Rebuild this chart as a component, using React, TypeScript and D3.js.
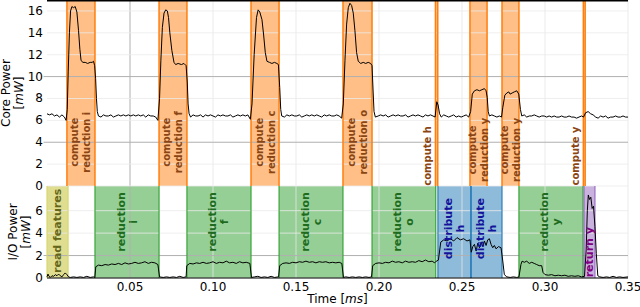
import React from "react";
import * as d3 from "d3";

// core power trace, [time ms, mW]
const coreTrace: [number, number][] = [
  [0, 6.6], [0.0015, 6.5], [0.003, 6.6], [0.0045, 6.4], [0.006, 6.5], [0.0075, 6.3], [0.009, 6.5], [0.0105, 6.3], [0.0115, 6.0],
  [0.0122, 7.0], [0.0128, 10.5], [0.0135, 14.0], [0.0142, 16.0], [0.015, 16.4], [0.016, 16.3], [0.017, 16.4], [0.018, 15.9], [0.019, 14.2], [0.0198, 12.5], [0.0205, 11.5], [0.0215, 11.3], [0.023, 11.3], [0.0245, 11.2], [0.026, 11.3], [0.0272, 11.3], [0.028, 11.4], [0.0287, 11.0],
  [0.0293, 9.8], [0.0298, 8.0], [0.0303, 6.8], [0.031, 6.4],
  [0.0325, 6.3], [0.034, 6.5], [0.0355, 6.4], [0.037, 6.4], [0.0385, 6.5], [0.04, 6.3], [0.0415, 6.4], [0.043, 6.5], [0.0445, 6.4], [0.046, 6.5], [0.0475, 6.4], [0.049, 6.5], [0.0505, 6.4], [0.052, 6.5], [0.0535, 6.4], [0.055, 6.5], [0.0565, 6.4], [0.058, 6.5], [0.0595, 6.3], [0.061, 6.5], [0.0625, 6.4], [0.064, 6.4], [0.0655, 6.3], [0.0668, 6.0],
  [0.0678, 8.0], [0.0686, 11.5], [0.0695, 14.5], [0.0705, 15.8], [0.0715, 16.1], [0.0725, 16.0], [0.0732, 15.4], [0.074, 14.0], [0.0752, 12.4], [0.0765, 11.3], [0.0775, 11.1], [0.079, 11.2], [0.081, 11.1], [0.0825, 11.2], [0.0838, 11.0], [0.0845, 9.5], [0.085, 7.5], [0.0856, 6.6], [0.0865, 6.3],
  [0.088, 6.5], [0.0895, 6.4], [0.091, 6.4], [0.0925, 6.5], [0.094, 6.3], [0.0955, 6.5], [0.097, 6.4], [0.0985, 6.5], [0.1, 6.4], [0.1015, 6.3], [0.103, 6.5], [0.1045, 6.4], [0.106, 6.5], [0.1075, 6.4], [0.109, 6.4], [0.1105, 6.5], [0.112, 6.3], [0.1135, 6.4], [0.115, 6.5], [0.1165, 6.4], [0.118, 6.5], [0.1195, 6.4], [0.121, 6.5], [0.1225, 6.1],
  [0.1235, 7.5], [0.1248, 12.0], [0.1262, 15.4], [0.1272, 16.1], [0.1282, 15.9], [0.1295, 15.2], [0.1305, 13.8], [0.1315, 12.2], [0.1325, 11.4], [0.134, 11.3], [0.1355, 11.2], [0.137, 11.3], [0.1385, 11.2], [0.1394, 11.1], [0.1402, 9.0], [0.1408, 7.0], [0.1414, 6.4],
  [0.143, 6.3], [0.1445, 6.5], [0.146, 6.4], [0.1475, 6.5], [0.149, 6.4], [0.1505, 6.4], [0.152, 6.5], [0.1535, 6.3], [0.155, 6.4], [0.1565, 6.5], [0.158, 6.4], [0.1595, 6.5], [0.161, 6.4], [0.1625, 6.5], [0.164, 6.4], [0.1655, 6.3], [0.167, 6.5], [0.1685, 6.4], [0.17, 6.5], [0.1715, 6.4], [0.173, 6.4], [0.1745, 6.5], [0.176, 6.4], [0.1775, 6.2],
  [0.1785, 7.5], [0.1795, 11.5], [0.1805, 14.8], [0.1815, 16.3], [0.1825, 16.7], [0.1835, 16.5], [0.1845, 15.8], [0.1855, 14.2], [0.1865, 12.2], [0.1875, 11.4], [0.189, 11.2], [0.1905, 11.3], [0.192, 11.2], [0.1935, 11.3], [0.195, 11.2], [0.1958, 11.0], [0.1965, 8.5], [0.197, 6.8], [0.1978, 6.3],
  [0.1995, 6.4], [0.201, 6.5], [0.2025, 6.4], [0.204, 6.5], [0.2055, 6.3], [0.207, 6.4], [0.2085, 6.5], [0.21, 6.4], [0.2115, 6.5], [0.213, 6.4], [0.2145, 6.4], [0.216, 6.5], [0.2175, 6.3], [0.219, 6.4], [0.2205, 6.5], [0.222, 6.4], [0.2235, 6.5], [0.225, 6.4], [0.2265, 6.3], [0.228, 6.5], [0.2295, 6.4], [0.231, 6.5], [0.2325, 6.4], [0.2338, 6.3],
  [0.2348, 7.7], [0.2356, 7.4], [0.2365, 6.6], [0.2375, 6.3],
  [0.239, 6.5], [0.2405, 6.4], [0.242, 6.3], [0.2435, 6.4], [0.245, 6.5], [0.2465, 6.3], [0.248, 6.4], [0.2495, 6.3], [0.251, 6.4], [0.2525, 6.5], [0.254, 6.3],
  [0.2552, 6.8], [0.2562, 8.4], [0.2575, 8.7], [0.259, 8.8], [0.2605, 8.7], [0.262, 8.8], [0.2635, 8.9], [0.2645, 8.7], [0.2652, 8.1], [0.2658, 6.8], [0.2665, 6.4],
  [0.268, 6.5], [0.2695, 6.4], [0.271, 6.3], [0.2725, 6.4], [0.2738, 6.3],
  [0.2746, 7.2], [0.2758, 8.3], [0.277, 8.5], [0.2782, 8.6], [0.279, 8.4], [0.2802, 8.5], [0.2815, 8.6], [0.283, 8.7], [0.2842, 8.4], [0.2852, 7.0], [0.286, 6.4],
  [0.2875, 6.5], [0.289, 6.3], [0.2905, 6.4], [0.292, 6.4], [0.2935, 6.5], [0.295, 6.4], [0.2965, 6.3], [0.298, 6.4], [0.2995, 6.4], [0.301, 6.3], [0.3025, 6.4], [0.304, 6.3], [0.3055, 6.4], [0.307, 6.3], [0.3085, 6.3], [0.31, 6.4], [0.3115, 6.3], [0.313, 6.3], [0.3145, 6.4], [0.316, 6.3], [0.3175, 6.3], [0.319, 6.2], [0.3205, 6.3], [0.322, 6.4], [0.3232, 6.3],
  [0.3245, 6.7], [0.326, 6.8], [0.3275, 6.6], [0.329, 6.5], [0.3305, 6.3], [0.332, 6.2], [0.3335, 6.4], [0.335, 6.3], [0.3365, 6.4], [0.338, 6.2], [0.3395, 6.3], [0.341, 6.3], [0.3425, 6.4], [0.344, 6.3], [0.3455, 6.3], [0.347, 6.4], [0.3485, 6.3], [0.35, 6.3],
];

// I/O power trace, [time ms, mW]
const ioTrace: [number, number][] = [
  [0, 0.1], [0.0006, 0.35], [0.0012, 0.15], [0.002, 0.05], [0.003, 0.2], [0.004, 0.15], [0.005, 0.3], [0.006, 0.2], [0.007, 0.35], [0.008, 0.2], [0.009, 0.1], [0.01, 0.3], [0.011, 0.45], [0.012, 0.3], [0.013, 0.1], [0.014, 0.05], [0.016, 0.1], [0.018, 0.05], [0.02, 0.1], [0.022, 0.05], [0.024, 0.15], [0.026, 0.05], [0.028, 0.1], [0.0288, 0.05],
  [0.0294, 1.0], [0.031, 1.15], [0.033, 1.1], [0.035, 1.2], [0.037, 1.15], [0.039, 1.25], [0.041, 1.2], [0.043, 1.3], [0.045, 1.2], [0.047, 1.35], [0.049, 1.25], [0.051, 1.3], [0.053, 1.4], [0.055, 1.3], [0.057, 1.35], [0.059, 1.45], [0.061, 1.3], [0.063, 1.4], [0.065, 1.35], [0.0668, 1.2],
  [0.0678, 0.1], [0.07, 0.05], [0.072, 0.1], [0.074, 0.05], [0.076, 0.1], [0.078, 0.05], [0.08, 0.15], [0.082, 0.05], [0.0838, 0.1],
  [0.0842, 1.1], [0.086, 1.3], [0.088, 1.25], [0.09, 1.35], [0.092, 1.3], [0.094, 1.4], [0.096, 1.3], [0.098, 1.35], [0.1, 1.45], [0.102, 1.3], [0.104, 1.4], [0.106, 1.35], [0.108, 1.5], [0.11, 1.35], [0.112, 1.4], [0.114, 1.3], [0.116, 1.45], [0.118, 1.35], [0.12, 1.4], [0.1222, 1.3],
  [0.1232, 0.05], [0.125, 0.1], [0.127, 0.15], [0.129, 0.05], [0.131, 0.1], [0.133, 0.05], [0.135, 0.15], [0.137, 0.05], [0.1395, 0.1],
  [0.1402, 1.1], [0.142, 1.3], [0.144, 1.35], [0.146, 1.3], [0.148, 1.4], [0.15, 1.35], [0.152, 1.45], [0.154, 1.4], [0.156, 1.5], [0.158, 1.4], [0.16, 1.45], [0.162, 1.35], [0.164, 1.45], [0.166, 1.4], [0.168, 1.45], [0.17, 1.35], [0.172, 1.4], [0.174, 1.35], [0.176, 1.4], [0.1776, 1.3],
  [0.1786, 0.05], [0.18, 0.1], [0.182, 0.05], [0.184, 0.1], [0.186, 0.05], [0.188, 0.1], [0.19, 0.05], [0.192, 0.1], [0.194, 0.05], [0.1955, 0.1],
  [0.1962, 1.1], [0.198, 1.3], [0.2, 1.35], [0.202, 1.3], [0.204, 1.4], [0.206, 1.35], [0.208, 1.5], [0.21, 1.4], [0.212, 1.45], [0.214, 1.35], [0.216, 1.5], [0.218, 1.4], [0.22, 1.45], [0.222, 1.4], [0.224, 1.55], [0.226, 1.45], [0.228, 1.6], [0.23, 1.45], [0.232, 1.5], [0.2335, 1.35],
  [0.2345, 1.5], [0.2358, 1.6], [0.2372, 3.2], [0.239, 3.4], [0.241, 3.3], [0.243, 3.5], [0.245, 3.3], [0.247, 3.6], [0.249, 3.4], [0.251, 3.5], [0.253, 3.3], [0.2548, 3.4],
  [0.2556, 2.3], [0.2565, 2.8], [0.2575, 3.0], [0.2585, 2.4], [0.2595, 3.1], [0.2605, 2.7], [0.2615, 3.2], [0.2625, 2.8], [0.2635, 3.3], [0.2645, 2.9], [0.2655, 3.4], [0.2665, 3.5], [0.2675, 3.0], [0.2685, 2.7], [0.2695, 2.9], [0.2705, 2.6], [0.272, 2.8], [0.2735, 2.7], [0.2745, 1.6], [0.2755, 0.3], [0.277, 0.1], [0.279, 0.05], [0.281, 0.1], [0.283, 0.05], [0.2843, 0.1],
  [0.2855, 1.2], [0.2862, 1.5], [0.2875, 1.4], [0.289, 1.5], [0.2905, 1.3], [0.292, 1.4], [0.2935, 1.3], [0.295, 1.2], [0.2965, 1.1], [0.298, 1.1], [0.2988, 0.5], [0.3, 0.3], [0.302, 0.25], [0.304, 0.3], [0.306, 0.2], [0.308, 0.25], [0.31, 0.2], [0.312, 0.25], [0.314, 0.15], [0.316, 0.2], [0.318, 0.15], [0.32, 0.2], [0.322, 0.1], [0.3238, 0.15],
  [0.3248, 2.5], [0.3255, 6.0], [0.3261, 7.4], [0.3268, 7.0], [0.3276, 7.2], [0.3284, 6.2], [0.3292, 6.4], [0.3301, 4.6], [0.3309, 2.2], [0.3318, 0.2], [0.333, 0.1], [0.335, 0.05], [0.337, 0.1], [0.339, 0.05], [0.341, 0.15], [0.343, 0.05], [0.345, 0.1], [0.347, 0.05], [0.35, 0.1],
];

// phases: start/end in ms, label lines, label centre (mW)
const coreSpans = [
  { start: 0.012, end: 0.0289, lines: ["compute", "reduction i"], at: 4.0 },
  { start: 0.0675, end: 0.0843, lines: ["compute", "reduction f"], at: 4.0 },
  { start: 0.1229, end: 0.1398, lines: ["compute", "reduction c"], at: 4.0 },
  { start: 0.1783, end: 0.1958, lines: ["compute", "reduction o"], at: 4.0 },
  { start: 0.234, end: 0.2354, lines: ["compute h"], at: 2.75 },
  { start: 0.2548, end: 0.2651, lines: ["compute", "reduction y"], at: 3.3 },
  { start: 0.2741, end: 0.2843, lines: ["compute", "reduction y"], at: 3.3 },
  { start: 0.3231, end: 0.3242, lines: ["compute y"], at: 2.75 },
];

const ioSpans = [
  { start: 0, end: 0.0127, lines: ["read features"], at: 4.2, kind: "read" },
  { start: 0.0289, end: 0.0675, lines: ["reduction", "i"], at: 5.0, kind: "red" },
  { start: 0.0843, end: 0.1229, lines: ["reduction", "f"], at: 5.0, kind: "red" },
  { start: 0.1398, end: 0.1783, lines: ["reduction", "c"], at: 5.0, kind: "red" },
  { start: 0.1958, end: 0.2342, lines: ["reduction", "o"], at: 5.0, kind: "red" },
  { start: 0.2355, end: 0.2554, lines: ["distribute", "h"], at: 4.4, kind: "dist" },
  { start: 0.2554, end: 0.2741, lines: ["distribute", "h"], at: 4.4, kind: "dist" },
  { start: 0.2843, end: 0.3229, lines: ["reduction", "y"], at: 5.0, kind: "red" },
  { start: 0.3235, end: 0.3301, lines: ["return y"], at: 2.3, kind: "ret" },
];

const xTicks = [0.05, 0.1, 0.15, 0.2, 0.25, 0.3, 0.35];
const coreTicks = [0, 2, 4, 6, 8, 10, 12, 14, 16];
const ioTicks = [0, 2, 4, 6];

const kinds: Record<string, { fill: string; edge: string; text: string }> = {
  core: { fill: "#ffbf86", edge: "#ff7f0e", text: "#8b4513" },
  read: { fill: "#dedd90", edge: "#d6d66a", text: "#66661a" },
  red: { fill: "#96cf96", edge: "#2ca02c", text: "#1e6b1e" },
  dist: { fill: "#8fbbdb", edge: "#1f77b4", text: "#14149a" },
  ret: { fill: "#c9b3de", edge: "#9467bd", text: "#800080" },
};

const font = "DejaVu Sans";

export default function App() {
  const x = d3.scaleLinear().domain([0, 0.35]).range([47, 628]);
  const yCore = d3.scaleLinear().domain([0, 17]).range([186, 0]);
  const yIO = d3.scaleLinear().domain([0, 8.2]).range([278, 186]);
  const [x0, x1] = x.range();

  const coreLine = d3.line<[number, number]>().x(d => x(d[0])).y(d => yCore(d[1]));
  const ioLine = d3.line<[number, number]>().x(d => x(d[0])).y(d => yIO(d[1]));

  const spanRects = (spans: any[], y: d3.ScaleLinear<number, number>, panel: string) =>
    spans.map((s, i) => {
      const k = kinds[s.kind || "core"];
      const [top, bot] = [y.range()[1], y.range()[0]];
      const a = x(s.start), b = x(s.end);
      return <rect key={panel + i} x={a} y={top} width={b - a} height={bot - top} fill={k.fill} />;
    });

  const spanEdges = (spans: any[], y: d3.ScaleLinear<number, number>, panel: string) =>
    spans.map((s, i) => {
      const k = kinds[s.kind || "core"];
      const [top, bot] = [y.range()[1], y.range()[0]];
      const w = s.kind ? 1.1 : 1.5;
      return (
        <g key={panel + "e" + i} stroke={k.edge} strokeWidth={w}>
          <line x1={x(s.start)} x2={x(s.start)} y1={top} y2={bot} />
          <line x1={x(s.end)} x2={x(s.end)} y1={top} y2={bot} />
        </g>
      );
    });

  const spanLabels = (spans: any[], y: d3.ScaleLinear<number, number>, panel: string, size: number) =>
    spans.map((s, i) => {
      const k = kinds[s.kind || "core"];
      const a = x(s.start), b = x(s.end);
      const narrow = b - a < 4;
      const cx = narrow ? a - 8 : (a + b) / 2;
      const cy = y(s.at);
      const lh = 12;
      return (
        <g key={panel + "t" + i}>
          {s.lines.map((t: string, j: number) => (
            <text
              key={j}
              transform={`translate(${cx + (j - (s.lines.length - 1) / 2) * lh},${cy}) rotate(-90)`}
              textAnchor="middle"
              dominantBaseline="central"
              fontSize={size}
              fontWeight="bold"
              fill={k.text}
            >
              {t}
            </text>
          ))}
        </g>
      );
    });

  const hGrid = (ticks: number[], major: number[], y: d3.ScaleLinear<number, number>, panel: string) =>
    ticks.map(t => (
      <line
        key={panel + "h" + t}
        x1={major.includes(t) ? x0 - 3.5 : x0}
        x2={x1}
        y1={y(t)}
        y2={y(t)}
        stroke={major.includes(t) ? "#b0b0b0" : "#ebebeb"}
        strokeWidth={major.includes(t) ? 1 : 0.8}
      />
    ));

  const vGrid = (y: d3.ScaleLinear<number, number>, panel: string) =>
    xTicks.map(t => (
      <line
        key={panel + "v" + t}
        x1={x(t)}
        x2={x(t)}
        y1={y.range()[1]}
        y2={y.range()[0]}
        stroke={t === 0.05 ? "#b0b0b0" : "#e6e6e6"}
        strokeWidth={t === 0.05 ? 1 : 0.8}
      />
    ));

  return (
    <svg width={640} height={307} style={{ position: "absolute", left: 0, top: 0, background: "#fff" }} fontFamily={font}>
      {/* spans */}
      {spanRects(coreSpans, yCore, "c")}
      {spanRects(ioSpans, yIO, "i")}
      {/* grids */}
      {vGrid(yCore, "c")}
      {vGrid(yIO, "i")}
      {hGrid(coreTicks, [4, 10], yCore, "c")}
      {hGrid(ioTicks, [2], yIO, "i")}
      {spanEdges(coreSpans, yCore, "c")}
      {spanEdges(ioSpans, yIO, "i")}
      {/* traces */}
      <path d={coreLine(coreTrace) || ""} fill="none" stroke="#000" strokeWidth={1} />
      <path d={ioLine(ioTrace) || ""} fill="none" stroke="#000" strokeWidth={1} />
      {spanLabels(coreSpans, yCore, "c", 10)}
      {spanLabels(ioSpans, yIO, "i", 11)}
      {/* spines */}
      <line x1={x0} x2={x1} y1={0.75} y2={0.75} stroke="#000" strokeWidth={1.5} />
      <line x1={x0} x2={x1} y1={278} y2={278} stroke="#000" strokeWidth={1.2} />
      {/* tick labels */}
      {coreTicks.map(t => (
        <text key={"cl" + t} x={43} y={yCore(t)} textAnchor="end" dominantBaseline="central" fontSize={12}>
          {t}
        </text>
      ))}
      {ioTicks.map(t => (
        <text key={"il" + t} x={43} y={yIO(t)} textAnchor="end" dominantBaseline="central" fontSize={12}>
          {t}
        </text>
      ))}
      {xTicks.map(t => (
        <text key={"xl" + t} x={x(t)} y={287} textAnchor="middle" dominantBaseline="central" fontSize={12}>
          {d3.format(".2f")(t)}
        </text>
      ))}
      {/* axis titles */}
      <g transform={`translate(9.5,${yCore(8.5)}) rotate(-90)`}>
        <text textAnchor="middle" fontSize={12}>Core Power</text>
      </g>
      <g transform={`translate(23,${yCore(8.5)}) rotate(-90)`}>
        <text textAnchor="middle" fontSize={12}>
          [<tspan fontStyle="italic">mW</tspan>]
        </text>
      </g>
      <g transform={`translate(16.5,${yIO(4.1)}) rotate(-90)`}>
        <text textAnchor="middle" fontSize={12}>I/O Power</text>
      </g>
      <g transform={`translate(30,${yIO(4.1)}) rotate(-90)`}>
        <text textAnchor="middle" fontSize={12}>
          [<tspan fontStyle="italic">mW</tspan>]
        </text>
      </g>
      <text x={(x0 + x1) / 2} y={303} textAnchor="middle" fontSize={12}>
        Time [<tspan fontStyle="italic">ms</tspan>]
      </text>
    </svg>
  );
}
